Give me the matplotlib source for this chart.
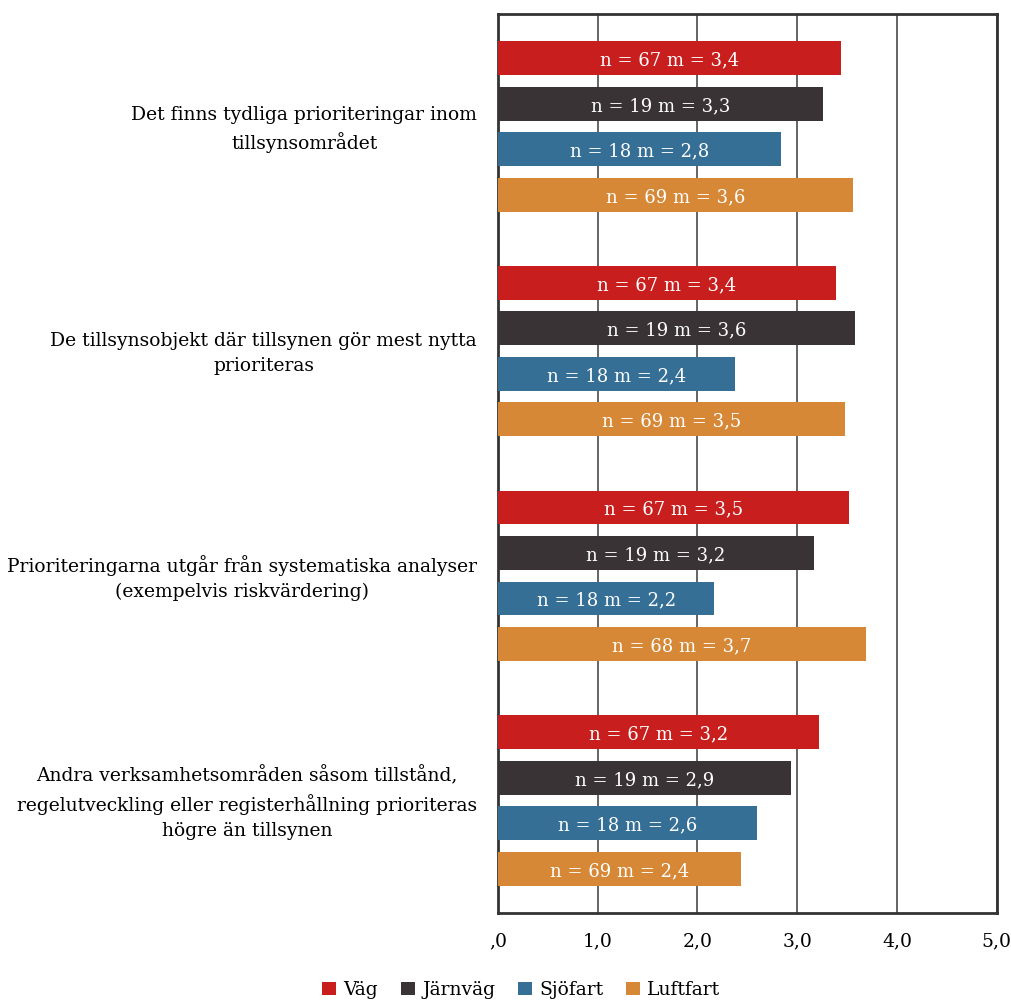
import matplotlib.pyplot as plt
import numpy as np

plt.rcParams['font.family'] = ['DejaVu Serif']

categories = [
    'Det finns tydliga prioriteringar inom\ntillsynsområdet',
    'De tillsynsobjekt där tillsynen gör mest nytta\nprioriteras',
    'Prioriteringarna utgår från systematiska analyser\n(exempelvis riskvärdering)',
    'Andra verksamhetsområden såsom tillstånd,\nregelutveckling eller registerhållning prioriteras\nhögre än tillsynen',
]
series = ['Väg', 'Järnväg', 'Sjöfart', 'Luftfart']
colors = ['#C81E1E', '#3A3335', '#356F96', '#D68836']

# mean values per series (rows) for each category (columns)
values = [
    [3.44, 3.39, 3.52, 3.22],  # Väg
    [3.26, 3.58, 3.17, 2.94],  # Järnväg
    [2.84, 2.38, 2.17, 2.60],  # Sjöfart
    [3.56, 3.48, 3.69, 2.44],  # Luftfart
]
counts = [
    [67, 67, 67, 67],
    [19, 19, 19, 19],
    [18, 18, 18, 18],
    [69, 69, 68, 69],
]
xticks = [0, 1, 2, 3, 4, 5]
xticklabels = [',0', '1,0', '2,0', '3,0', '4,0', '5,0']

fig = plt.figure(figsize=(10.12, 10.02), dpi=100)
ax = fig.add_axes([0.492, 0.089, 0.493, 0.897])

pitch = 0.2025
height = 0.151
y = np.arange(len(categories))
for j, name in enumerate(series):
    pos = y + (j - 1.5) * pitch
    ax.barh(pos, values[j], height=height, color=colors[j], label=name, zorder=3)
    for k in range(len(categories)):
        m = ('%.1f' % values[j][k]).replace('.', ',')
        ax.text(values[j][k] / 2, pos[k] + 0.01, 'n = %d m = %s' % (counts[j][k], m),
                ha='center', va='center', color='white', fontsize=13, zorder=4)

ax.set_xlim(0, 5)
ax.set_ylim(len(categories) - 0.5, -0.5)
ax.set_xticks(xticks)
ax.set_xticklabels(xticklabels, fontsize=13.5)
ax.tick_params(axis='x', length=0, pad=14)
ax.set_yticks(y - 0.015)
ax.set_yticklabels(categories, fontsize=13.5, ha='right', multialignment='center', linespacing=1.5)
ax.tick_params(axis='y', length=0, pad=15)
ax.grid(axis='x', color='#3a3a3a', linewidth=1.1, zorder=0)
for s in ['left', 'bottom', 'right', 'top']:
    ax.spines[s].set_linewidth(2)
    ax.spines[s].set_color('#333333')

fig.legend(loc='center', bbox_to_anchor=(0.515, 0.012), ncol=4, frameon=False,
           fontsize=13.5, handlelength=0.75, handleheight=0.75, handletextpad=0.4, columnspacing=1.2)

fig.savefig('out.png', dpi=100)
